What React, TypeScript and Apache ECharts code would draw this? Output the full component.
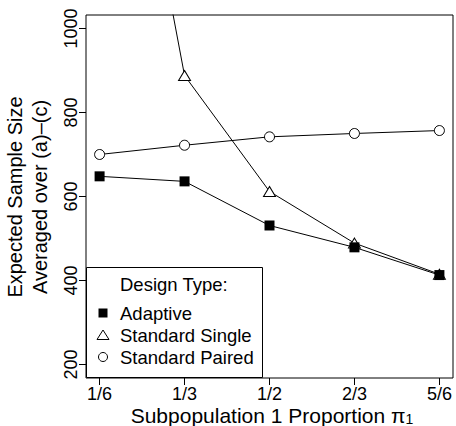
import React, { useEffect, useRef } from "react";
import * as echarts from "echarts";

const categories = ["1/6", "1/3", "1/2", "2/3", "5/6"];
const xPositions = [1, 2, 3, 4, 5];
const adaptive = [648, 636, 531, 479, 413];
const standardSingle = [1960, 888, 612, 489, 415];
const standardPaired = [700, 722, 742, 750, 757];
const yTicks = [200, 400, 600, 800, 1000];
const seriesNames = ["Adaptive", "Standard Single", "Standard Paired"];
const legendTitle = "Design Type:";
const xTitle = "Subpopulation 1 Proportion π";
const yTitle1 = "Expected Sample Size";
const yTitle2 = "Averaged over (a)–(c)";

const FONT = "'Liberation Sans', Arial, Helvetica, sans-serif";

function pairs(values: number[]) {
  return xPositions.map((x, i) => [x, values[i]]);
}

export default function App() {
  const ref = useRef<HTMLDivElement>(null);
  useEffect(() => {
    if (!ref.current) return;
    const chart = echarts.init(ref.current, undefined, { renderer: "svg" });
    const lineBase = {
      type: "line" as const,
      clip: true,
      lineStyle: { color: "#000", width: 1 },
      emphasis: { disabled: true },
    };
    chart.setOption({
      animation: false,
      backgroundColor: "#fff",
      grid: {
        left: 86,
        right: 3,
        top: 15,
        bottom: 48,
        show: true,
        borderColor: "#000",
        borderWidth: 1,
      },
      xAxis: {
        type: "value",
        min: 0.84,
        max: 5.16,
        axisLine: { show: false },
        splitLine: { show: false },
        axisTick: {
          show: true,
          length: 7,
          lineStyle: { color: "#000" },
          customValues: xPositions,
        },
        axisLabel: {
          customValues: xPositions,
          margin: 7,
          color: "#000",
          fontSize: 18,
          lineHeight: 18,
          fontFamily: FONT,
          formatter: (v: number) => categories[Math.round(v) - 1],
        },
      },
      yAxis: {
        type: "value",
        min: 168,
        max: 1032,
        axisLine: { show: false },
        splitLine: { show: false },
        axisTick: {
          show: true,
          length: 7,
          lineStyle: { color: "#000" },
          customValues: yTicks,
        },
        axisLabel: {
          customValues: yTicks,
          rotate: 90,
          margin: 6,
          color: "#000",
          fontSize: 18,
          fontFamily: FONT,
          formatter: (v: number) => String(v),
        },
      },
      series: [
        {
          ...lineBase,
          name: seriesNames[1],
          data: pairs(standardSingle),
          symbol: "triangle",
          symbolSize: [12, 10],
          itemStyle: { color: "#fff", borderColor: "#000", borderWidth: 1 },
          z: 2,
        },
        {
          ...lineBase,
          name: seriesNames[2],
          data: pairs(standardPaired),
          symbol: "circle",
          symbolSize: 10,
          itemStyle: { color: "#fff", borderColor: "#000", borderWidth: 1 },
          z: 3,
        },
        {
          ...lineBase,
          name: seriesNames[0],
          data: pairs(adaptive),
          symbol: "rect",
          symbolSize: 10,
          itemStyle: { color: "#000", borderColor: "#000", borderWidth: 0 },
          z: 4,
        },
      ],
      graphic: [
        {
          type: "text",
          x: 272,
          y: 415,
          style: {
            text: xTitle + "{sub|1}",
            font: `21px ${FONT}`,
            lineHeight: 21,
            fill: "#000",
            textAlign: "center",
            textVerticalAlign: "middle",
            rich: {
              sub: {
                fontSize: 14,
                fontFamily: FONT,
                verticalAlign: "bottom",
                padding: [8, 0, 0, 0],
              },
            },
          },
        },
        {
          type: "text",
          x: 15,
          y: 197,
          rotation: Math.PI / 2,
          style: {
            text: yTitle1,
            font: `20px ${FONT}`,
            fill: "#000",
            textAlign: "center",
            textVerticalAlign: "middle",
          },
        },
        {
          type: "text",
          x: 40,
          y: 197,
          rotation: Math.PI / 2,
          style: {
            text: yTitle2,
            font: `20px ${FONT}`,
            fill: "#000",
            textAlign: "center",
            textVerticalAlign: "middle",
          },
        },
        {
          type: "group",
          z: 100,
          children: [
            {
              type: "rect",
              shape: { x: 86.5, y: 267.5, width: 176, height: 110 },
              style: { fill: "#fff", stroke: "#000", lineWidth: 1 },
            },
            {
              type: "text",
              x: 120,
              y: 284,
              style: {
                text: legendTitle,
                font: `18.5px ${FONT}`,
                fill: "#000",
                textAlign: "left",
                textVerticalAlign: "middle",
              },
            },
            {
              type: "rect",
              shape: { x: 98.5, y: 308.5, width: 9, height: 9 },
              style: { fill: "#000" },
            },
            {
              type: "polygon",
              shape: { points: [[97, 339.5], [109, 339.5], [103, 330]] },
              style: { fill: "#fff", stroke: "#000", lineWidth: 1 },
            },
            {
              type: "circle",
              shape: { cx: 103, cy: 357, r: 4.5 },
              style: { fill: "#fff", stroke: "#000", lineWidth: 1 },
            },
            ...seriesNames.map((name, i) => ({
              type: "text",
              x: 120,
              y: 313 + i * 22,
              style: {
                text: name,
                font: `18.5px ${FONT}`,
                fill: "#000",
                textAlign: "left",
                textVerticalAlign: "middle",
              },
            })),
          ],
        },
      ],
    });
    return () => chart.dispose();
  }, []);
  return (
    <div
      ref={ref}
      style={{ position: "fixed", left: 0, top: 0, width: 456, height: 426 }}
    />
  );
}
